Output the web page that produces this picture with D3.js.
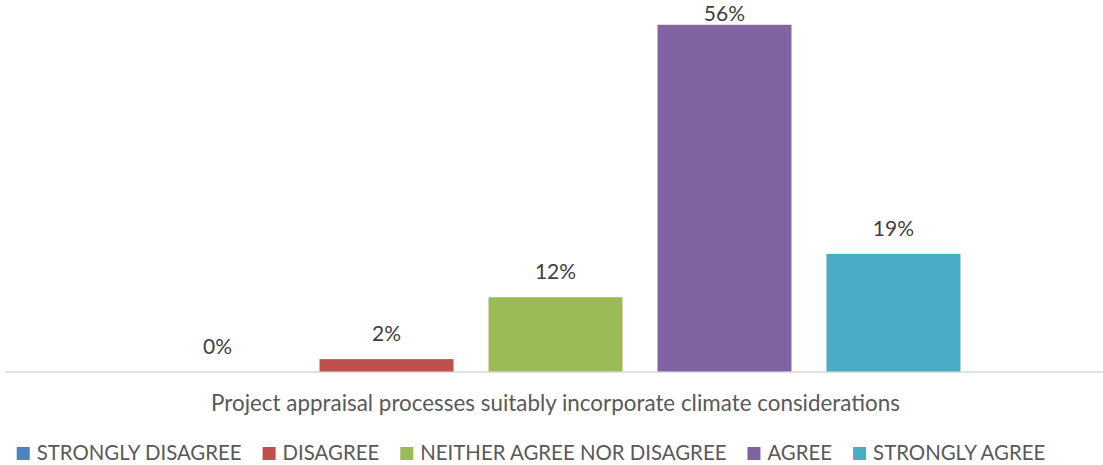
<!DOCTYPE html>
<html>
<head>
<meta charset="utf-8">
<script src="https://cdn.jsdelivr.net/npm/d3@7"></script>
<style>
  html, body { margin: 0; padding: 0; background: #fff; }
  svg { display: block; font-family: Lato, "Open Sans", sans-serif; }
</style>
</head>
<body>
<svg id="chart" width="1103" height="465"></svg>
<script>
// Survey responses for one statement, as percentages of respondents
const category = "Project appraisal processes suitably incorporate climate considerations";
const responses = ["STRONGLY DISAGREE", "DISAGREE", "NEITHER AGREE NOR DISAGREE", "AGREE", "STRONGLY AGREE"];
const shares = [0, 2, 12, 56, 19];
const colors = ["#4F81BD", "#C0504D", "#9BBB59", "#8064A2", "#4BACC6"];

const svg = d3.select("#chart");

const axisLeft = 8, axisRight = 1103, baseY = 371.5, topY = 0;

// Outer band: the single category; inner band: one bar per response
const x0 = d3.scaleBand().domain([category]).range([axisLeft, axisRight])
  .paddingInner(0).paddingOuter(0.148);
const x1 = d3.scaleBand().domain(responses).range([0, x0.bandwidth()])
  .paddingInner(0.207).paddingOuter(0.1036);
const y = d3.scaleLinear().domain([0, 60]).range([baseY, topY]);

const data = responses.map((r, i) => ({ r, v: shares[i], c: colors[i] }));

// Category axis line
const xAxis = d3.axisBottom(x0).tickSize(0).tickFormat("");
const axG = svg.append("g").attr("transform", `translate(0,${baseY + 0.5})`).call(xAxis);
axG.select(".domain").attr("stroke", "#D9D9D9").attr("stroke-width", 1.5)
  .attr("d", `M5,0H${axisRight}`);

const g = svg.append("g").attr("transform", `translate(${x0(category)},0)`);

g.selectAll("rect.bar").data(data).join("rect")
  .attr("class", "bar")
  .attr("x", d => x1(d.r))
  .attr("width", x1.bandwidth())
  .attr("y", d => y(d.v))
  .attr("height", d => baseY - y(d.v))
  .attr("fill", d => d.c);

// Value labels above each bar
g.selectAll("text.val").data(data).join("text")
  .attr("class", "val")
  .attr("x", d => x1(d.r) + x1.bandwidth() / 2)
  .attr("y", d => Math.max(y(d.v) - 18, 20.5))
  .attr("text-anchor", "middle")
  .attr("font-size", 21)
  .attr("fill", "#404040")
  .text(d => d.v + "%");

// Category label under the axis
svg.append("text")
  .attr("x", x0(category) + x0.bandwidth() / 2)
  .attr("y", 410.5)
  .attr("text-anchor", "middle")
  .attr("font-size", 22.4)
  .attr("fill", "#595959")
  .text(category);

// Legend, centred below
const legend = svg.append("g");
const sw = 13, gapText = 7, gapItem = 21, legY = 460;
let cx = 0;
data.forEach(d => {
  const item = legend.append("g").attr("transform", `translate(${cx},0)`);
  item.append("rect").attr("x", 0).attr("y", legY - sw).attr("width", sw).attr("height", sw).attr("fill", d.c);
  const t = item.append("text").attr("x", sw + gapText).attr("y", legY)
    .attr("font-size", 20.4).attr("fill", "#595959").text(d.r);
  cx += sw + gapText + t.node().getComputedTextLength() + gapItem;
});
const legW = cx - gapItem;
legend.attr("transform", `translate(${531 - legW / 2},0)`);
</script>
</body>
</html>
